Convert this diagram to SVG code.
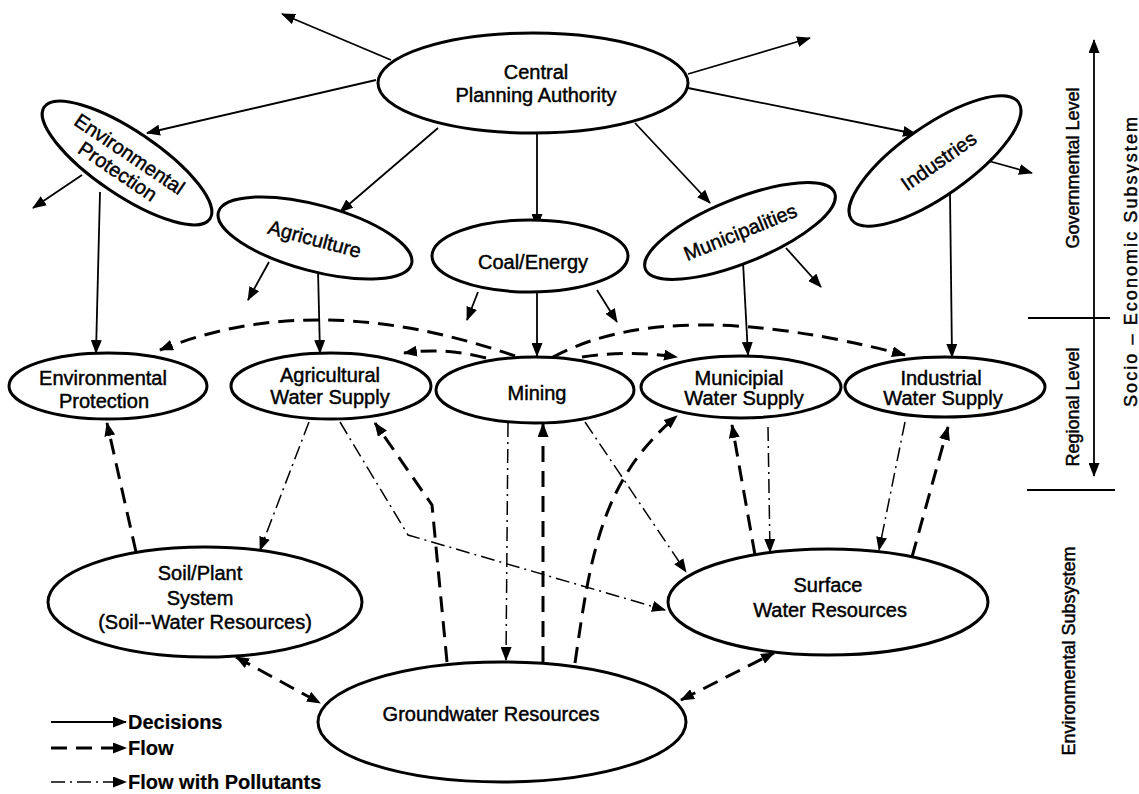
<svg xmlns="http://www.w3.org/2000/svg" width="1139" height="794" viewBox="0 0 1139 794">
<style>
text{font-family:"Liberation Sans",Arial,sans-serif;font-size:20px;fill:#000;stroke:#000;stroke-width:0.45;text-anchor:middle}
.node ellipse{fill:#fff;stroke:#000;stroke-width:3}
.dec{fill:none;stroke:#000;stroke-width:1.8;marker-end:url(#ah)}
.flow{fill:none;stroke:#000;stroke-width:3;stroke-dasharray:16 9;marker-end:url(#ah)}
.pol{fill:none;stroke:#000;stroke-width:1.5;stroke-dasharray:14 5 2 5;marker-end:url(#ah)}
.both{marker-start:url(#ahs)}
.vt{font-size:18px}
.leg{font-weight:bold;text-anchor:start;stroke-width:0.2}
</style>
<defs>
<marker id="ah" viewBox="0 0 14 11" refX="13" refY="5.5" markerWidth="14" markerHeight="11" markerUnits="userSpaceOnUse" orient="auto"><path d="M0,0 L14,5.5 L0,11 z" fill="#000"/></marker>
<marker id="ahs" viewBox="0 0 14 11" refX="13" refY="5.5" markerWidth="14" markerHeight="11" markerUnits="userSpaceOnUse" orient="auto-start-reverse"><path d="M0,0 L14,5.5 L0,11 z" fill="#000"/></marker>
</defs>

<g id="connectors">
<path class="dec" d="M391,60 L282,14"/>
<path class="dec" d="M688,74 L810,38"/>
<path class="dec" d="M376,80 L147,133"/>
<path class="dec" d="M438,128 L340,212"/>
<path class="dec" d="M537,133 L537,227"/>
<path class="dec" d="M635,123 L710,203"/>
<path class="dec" d="M688,88 L916,134"/>
<path class="dec" d="M82,175 L33,208"/>
<path class="dec" d="M100,192 L96,353"/>
<path class="dec" d="M269,262 L248,300"/>
<path class="dec" d="M318,270 L320,353"/>
<path class="dec" d="M478,292 L467,320"/>
<path class="dec" d="M597,290 L617,322"/>
<path class="dec" d="M537,293 L537,356"/>
<path class="dec" d="M786,248 L821,287"/>
<path class="dec" d="M743,262 L748,355"/>
<path class="dec" d="M985,160 L1032,173"/>
<path class="dec" d="M950,193 L952,357"/>

<path class="flow" d="M515,356 Q316,287 160,350"/>
<path class="flow" d="M486,358 Q445,347 404,353"/>
<path class="flow" d="M582,357 Q630,350 677,357"/>
<path class="flow" d="M553,357 Q671,294 905,355"/>
<path class="flow" d="M136,552 L107,423"/>
<path class="flow" d="M447,662 L432,505 L375,423"/>
<path class="flow" d="M543,662 L543,424"/>
<path class="flow" d="M575,663 C590,560 600,480 677,416"/>
<path class="flow" d="M755,555 L732,425"/>
<path class="flow" d="M912,557 L948,427"/>
<path class="flow both" d="M236,657 L320,703"/>
<path class="flow both" d="M681,700 L774,653"/>

<path class="pol" d="M309,422 L260,550"/>
<path class="pol" d="M340,422 L408,535 L665,610"/>
<path class="pol" d="M508,423 L506,660"/>
<path class="pol" d="M585,422 L686,572"/>
<path class="pol" d="M768,427 L770,552"/>
<path class="pol" d="M905,422 L879,550"/>

<path class="dec" d="M51,722 L126,722"/>
<path class="flow" d="M51,748 L126,748"/>
<path class="pol" d="M51,782 L126,782"/>

<path d="M1094,40 L1094,476" fill="none" stroke="#000" stroke-width="1.8" marker-start="url(#ahs)" marker-end="url(#ah)"/>
<path d="M1028,318 L1110,318 M1027,490 L1115,490" fill="none" stroke="#000" stroke-width="1.8"/>
</g>

<g id="cpa" class="node">
<ellipse cx="533" cy="83" rx="155" ry="50"/>
<text x="536" y="79">Central</text>
<text x="536" y="102">Planning Authority</text>
</g>
<g id="env-gov" class="node" transform="translate(127,163) rotate(34)">
<ellipse cx="0" cy="0" rx="100" ry="32"/>
<text x="-3" y="-2">Environmental</text>
<text x="-3" y="19">Protection</text>
</g>
<g id="agriculture" class="node" transform="translate(315,238) rotate(15)">
<ellipse cx="0" cy="0" rx="100" ry="33"/>
<text x="0" y="8">Agriculture</text>
</g>
<g id="coal" class="node">
<ellipse cx="530" cy="256" rx="98" ry="36"/>
<text x="533" y="269">Coal/Energy</text>
</g>
<g id="municipalities" class="node" transform="translate(740,231) rotate(-22)">
<ellipse cx="0" cy="0" rx="102" ry="32"/>
<text x="0" y="8">Municipalities</text>
</g>
<g id="industries" class="node" transform="translate(935,161) rotate(-35)">
<ellipse cx="0" cy="0" rx="102" ry="35"/>
<text x="3" y="9">Industries</text>
</g>

<g id="env-reg" class="node">
<ellipse cx="108" cy="386" rx="99" ry="33"/>
<text x="103" y="385">Environmental</text>
<text x="104" y="408">Protection</text>
</g>
<g id="agri-ws" class="node">
<ellipse cx="331" cy="386" rx="100" ry="33"/>
<text x="330" y="382">Agricultural</text>
<text x="330" y="404">Water Supply</text>
</g>
<g id="mining" class="node">
<ellipse cx="535" cy="390" rx="99" ry="33"/>
<text x="537" y="400">Mining</text>
</g>
<g id="muni-ws" class="node">
<ellipse cx="741" cy="387" rx="100" ry="31"/>
<text x="739" y="385">Municipial</text>
<text x="744" y="405">Water Supply</text>
</g>
<g id="ind-ws" class="node">
<ellipse cx="945" cy="387" rx="100" ry="30"/>
<text x="941" y="385">Industrial</text>
<text x="943" y="405">Water Supply</text>
</g>

<g id="soil" class="node">
<ellipse cx="205" cy="602" rx="157" ry="55"/>
<text x="200" y="580">Soil/Plant</text>
<text x="200" y="605">System</text>
<text x="205" y="629">(Soil--Water Resources)</text>
</g>
<g id="surface" class="node">
<ellipse cx="828" cy="602" rx="160" ry="53"/>
<text x="828" y="592">Surface</text>
<text x="830" y="617">Water Resources</text>
</g>
<g id="groundwater" class="node">
<ellipse cx="502" cy="722" rx="184" ry="60"/>
<text x="491" y="721">Groundwater Resources</text>
</g>

<g id="scale-labels">
<text class="vt" transform="translate(1079,168) rotate(-90)">Governmental Level</text>
<text class="vt" transform="translate(1079,407) rotate(-90)">Regional Level</text>
<text class="vt" transform="translate(1075,651) rotate(-90)">Environmental Subsystem</text>
<text class="vt" transform="translate(1137,262) rotate(-90)" textLength="290" lengthAdjust="spacing">Socio – Economic Subsystem</text>
</g>

<g id="legend">
<text class="leg" x="128" y="729">Decisions</text>
<text class="leg" x="128" y="755">Flow</text>
<text class="leg" x="128" y="789">Flow with Pollutants</text>
</g>
</svg>
